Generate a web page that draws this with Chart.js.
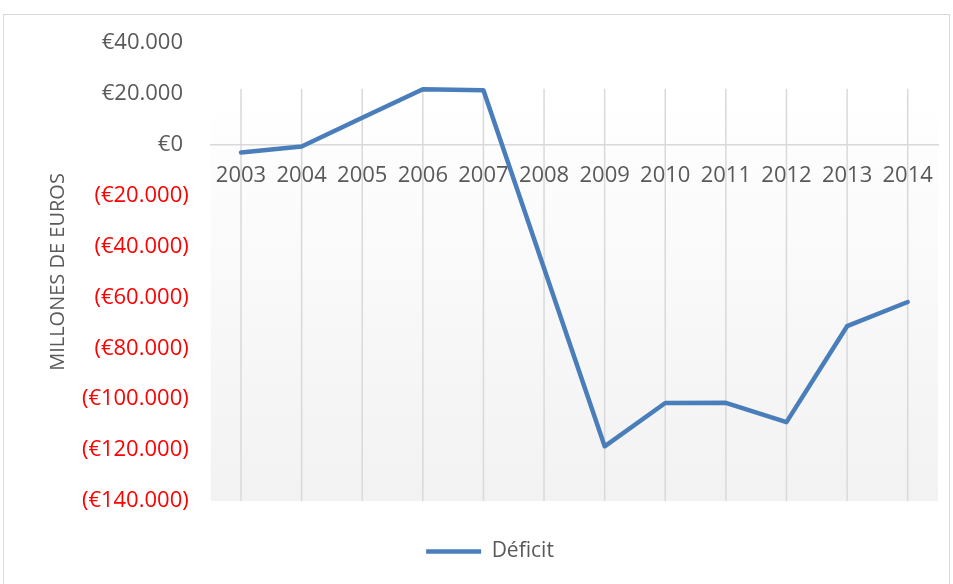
<!DOCTYPE html>
<html>
<head>
<meta charset="utf-8">
<script src="https://cdn.jsdelivr.net/npm/chart.js@4"></script>
<style>
  html, body { margin: 0; padding: 0; background: #fff; }
  #wrap { position: relative; width: 953px; height: 584px; }
</style>
</head>
<body>
<div id="wrap"><canvas id="deficitChart" width="953" height="584"></canvas></div>
<script>
// data
const years = ["2003", "2004", "2005", "2006", "2007", "2008", "2009", "2010", "2011", "2012", "2013", "2014"];
const deficit = [-3000, -700, 10600, 21800, 21400, -48500, -118500, -101500, -101400, -109000, -71300, -61800];
const yMin = -140000;
const yMax = 40000;
const yStep = 20000;
const seriesName = "Déficit";
const yTitle = "MILLONES DE EUROS";

const FONT = "'Open Sans', 'Noto Sans', sans-serif";
const TEXT = "#595959";
const GRID = "#d9d9d9";

function euro(v) {
  const s = String(Math.abs(v)).replace(/\B(?=(\d{3})+(?!\d))/g, ".");
  return v < 0 ? "(€" + s + ")" : "€" + s + " ";
}

// plot background gradient + vertical gridlines + outer frame
const plotBack = {
  id: "plotBack",
  beforeDraw(chart) {
    const { ctx, chartArea, scales } = chart;
    const x = scales.x, y = scales.y;
    ctx.save();
    ctx.strokeStyle = GRID;
    ctx.lineWidth = 1;
    ctx.strokeRect(3.5, 14.5, 946, 620);

    const top = y.getPixelForValue(20000);
    const g = ctx.createLinearGradient(0, top, 0, chartArea.bottom);
    g.addColorStop(0, "#ffffff");
    g.addColorStop(1, "#f2f2f2");
    ctx.fillStyle = g;
    ctx.fillRect(chartArea.left, top, chartArea.right - chartArea.left, chartArea.bottom - top);

    const gTop = y.getPixelForValue(22000);
    ctx.strokeStyle = GRID;
    ctx.lineWidth = 1.5;
    years.forEach((yr, i) => {
      const px = x.getPixelForValue(i);
      ctx.beginPath();
      ctx.moveTo(px, gTop);
      ctx.lineTo(px, chartArea.bottom);
      ctx.stroke();
    });
    ctx.restore();
  }
};

const ctx = document.getElementById("deficitChart").getContext("2d");

new Chart(ctx, {
  type: "line",
  data: {
    labels: years,
    datasets: [{
      label: seriesName,
      data: deficit,
      borderColor: "#4a7ebb",
      backgroundColor: "#4a7ebb",
      borderWidth: 4.5,
      borderJoinStyle: "round",
      borderCapStyle: "round",
      pointRadius: 0,
      tension: 0,
      fill: false
    }]
  },
  options: {
    responsive: false,
    animation: false,
    layout: {
      padding: { left: 42, right: 15, top: 43, bottom: 12 }
    },
    plugins: {
      legend: {
        display: true,
        position: "bottom",
        labels: {
          usePointStyle: true,
          pointStyle: "line",
          pointStyleWidth: 55,
          padding: 40,
          color: TEXT,
          font: { family: FONT, size: 21 }
        }
      },
      tooltip: { enabled: false }
    },
    scales: {
      x: {
        offset: true,
        position: { y: 0 },
        grid: { display: false, drawTicks: false },
        border: { display: true, color: GRID, width: 1.5 },
        ticks: {
          color: TEXT,
          padding: 18,
          maxRotation: 0,
          autoSkip: false,
          font: { family: FONT, size: 22 }
        },
        afterFit(scale) { scale.height = 0; }
      },
      y: {
        min: yMin,
        max: yMax,
        grid: { display: false, drawTicks: false },
        border: { display: false },
        ticks: {
          stepSize: yStep,
          padding: 22,
          font: { family: FONT, size: 22 },
          color: c => (c.tick && c.tick.value < 0 ? "#ff0000" : TEXT),
          callback: v => euro(v)
        },
        title: {
          display: true,
          text: yTitle,
          color: TEXT,
          padding: { top: 4, bottom: 0 },
          font: { family: FONT, size: 20 }
        },
        afterFit(scale) { scale.width = 168.7; }
      }
    }
  },
  plugins: [plotBack]
});
</script>
</body>
</html>
